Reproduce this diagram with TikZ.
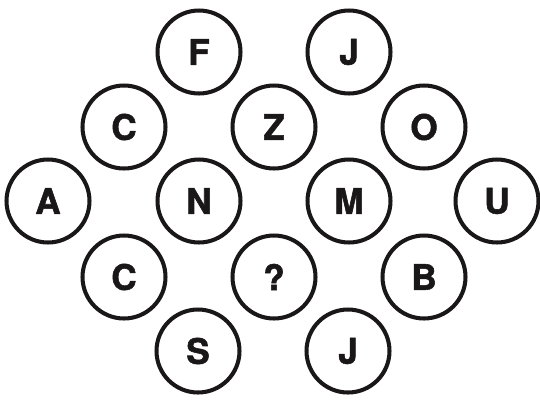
\documentclass[tikz,border=0pt]{standalone}
\usepackage{fontspec}
\setmainfont{TeX Gyre Heros}[BoldFeatures={FakeBold=1.6}]
\definecolor{ink}{HTML}{1A1718}

\tikzset{
  ring/.style={circle, draw=ink, line width=2.3pt, minimum size=1.66cm,
    inner sep=0pt, text=ink, font=\bfseries\fontsize{20}{24}\selectfont}
}

\begin{document}
\begin{tikzpicture}[x=0.02cm, y=-0.02cm]
  \useasboundingbox (0,0) rectangle (540,403);

  % Top row
  \node[ring] (f)  at (199, 52)  {F};
  \node[ring] (j1) at (349, 52)  {J};

  % Second row
  \node[ring] (c1) at (124, 127) {C};
  \node[ring] (z)  at (274, 127) {Z};
  \node[ring] (o)  at (424, 127) {O};

  % Middle row
  \node[ring] (a)  at (48, 201)  {A};
  \node[ring] (n)  at (199, 201) {N};
  \node[ring] (m)  at (349, 201) {M};
  \node[ring] (u)  at (497, 201) {U};

  % Fourth row
  \node[ring] (c2) at (124, 277) {C};
  \node[ring] (q)  at (274, 277) {?};
  \node[ring] (b)  at (424, 277) {B};

  % Bottom row
  \node[ring] (s)  at (198, 351) {S};
  \node[ring] (j2) at (348, 351) {J};
\end{tikzpicture}
\end{document}
